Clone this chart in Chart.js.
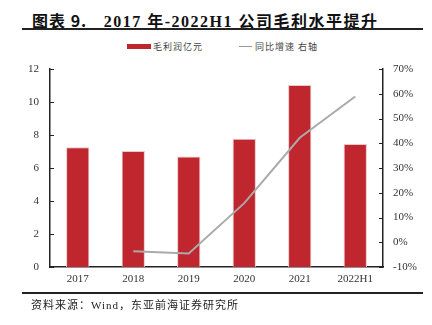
<!DOCTYPE html>
<html>
<head>
<meta charset="utf-8">
<script src="https://cdn.jsdelivr.net/npm/chart.js@4"></script>
<style>
    body { margin: 0; background: #fff; }
    #wrap { position: relative; width: 432px; height: 325px; overflow: hidden; }
    #chart { position: absolute; left: 0; top: 0; }
    .title { position: absolute; left: 32px; top: 8px; font-family: "Liberation Serif", "Noto Sans CJK SC"; font-weight: bold; font-size: 16px; color: #111; white-space: nowrap; letter-spacing: 1.5px; }
    .title .hei { font-family: "Noto Sans CJK SC"; letter-spacing: 1px; }
    .rule { position: absolute; left: 22px; width: 401px; height: 2px; background: #222; }
    .legend { position: absolute; top: 40px; font-family: "Noto Sans CJK SC"; font-size: 9px; color: #444; white-space: nowrap; letter-spacing: 1px; }
    .swatch { position: absolute; }
    .source { position: absolute; left: 31px; top: 296px; font-family: "Liberation Serif", "Noto Sans CJK SC"; font-size: 11px; color: #222; white-space: nowrap; letter-spacing: 1px; }
</style>
</head>
<body>
<div id="wrap">
    <div class="title"><span class="hei">图表 9.</span>&nbsp;&nbsp; 2017 年-2022H1 公司毛利水平提升</div>
    <div class="rule" style="top: 28px;"></div>

    <div class="swatch" style="left: 127px; top: 44px; width: 24px; height: 5px; background: #C0262E;"></div>
    <div class="legend" style="left: 153px;">毛利润亿元</div>
    <div class="swatch" style="left: 239px; top: 46px; width: 13px; height: 1px; background: #999;"></div>
    <div class="legend" style="left: 255px;">同比增速 右轴</div>

    <canvas id="chart" width="432" height="325"></canvas>

    <div class="rule" style="top: 292px;"></div>
    <div class="source">资料来源：Wind，东亚前海证券研究所</div>
</div>

<script>
const years = ['2017', '2018', '2019', '2020', '2021', '2022H1'];
const grossProfit = [7.26, 7.03, 6.69, 7.78, 11.03, 7.46];   // 亿元
const growthRate = [null, -3.6, -4.5, 15.8, 42.2, 58.9];      // %

const leftTicks = [0, 2, 4, 6, 8, 10, 12];
const rightTicks = [-10, 0, 10, 20, 30, 40, 50, 60, 70];

const tickFont = { family: '"Liberation Serif", "Times New Roman", serif', size: 11 };

// short tick marks pointing into the plot area on both value axes
const innerTicks = {
    id: 'innerTicks',
    afterDraw(chart) {
        const ctx = chart.ctx;
        ctx.save();
        ctx.strokeStyle = '#222';
        ctx.lineWidth = 1;
        ['y', 'y1'].forEach(function (id) {
            const scale = chart.scales[id];
            const x = id === 'y' ? scale.right : scale.left;
            const dir = id === 'y' ? 1 : -1;
            scale.ticks.forEach(function (t) {
                const py = Math.round(scale.getPixelForValue(t.value)) + 0.5;
                ctx.beginPath();
                ctx.moveTo(x, py);
                ctx.lineTo(x + dir * 4, py);
                ctx.stroke();
            });
        });
        ctx.restore();
    }
};

new Chart(document.getElementById('chart'), {
    data: {
        labels: years,
        datasets: [{
            type: 'line',
            label: '同比增速 右轴',
            data: growthRate,
            yAxisID: 'y1',
            borderColor: '#AAAAAA',
            borderWidth: 2,
            pointRadius: 0,
            tension: 0,
            order: 0
        }, {
            type: 'bar',
            label: '毛利润亿元',
            data: grossProfit,
            yAxisID: 'y',
            backgroundColor: '#C0262E',
            borderColor: '#E8C8C8',
            borderWidth: 1,
            categoryPercentage: 1,
            barPercentage: 0.42,
            order: 1
        }]
    },
    options: {
        responsive: false,
        animation: false,
        layout: { padding: { top: 69, left: 0, right: 0, bottom: 0 } },
        plugins: {
            legend: { display: false },
            tooltip: { enabled: false }
        },
        scales: {
            x: {
                afterFit: function (scale) { scale.height = 58; },
                grid: { display: false, drawTicks: false },
                border: { display: true, color: '#222', width: 1.5 },
                ticks: { color: '#333', font: tickFont, padding: 6 }
            },
            y: {
                position: 'left',
                min: 0,
                max: 12,
                afterFit: function (scale) { scale.width = 50; },
                afterBuildTicks: function (scale) { scale.ticks = leftTicks.map(v => ({ value: v })); },
                grid: { display: false, drawTicks: false },
                border: { display: true, color: '#222', width: 1.5 },
                ticks: { color: '#333', font: tickFont, padding: 11 }
            },
            y1: {
                position: 'right',
                min: -10,
                max: 70,
                afterFit: function (scale) { scale.width = 49; },
                afterBuildTicks: function (scale) { scale.ticks = rightTicks.map(v => ({ value: v })); },
                grid: { display: false, drawTicks: false },
                border: { display: true, color: '#222', width: 1.5 },
                ticks: {
                    color: '#333',
                    font: tickFont,
                    padding: 10,
                    callback: function (v) { return v + '%'; }
                }
            }
        }
    },
    plugins: [innerTicks]
});
</script>
</body>
</html>
